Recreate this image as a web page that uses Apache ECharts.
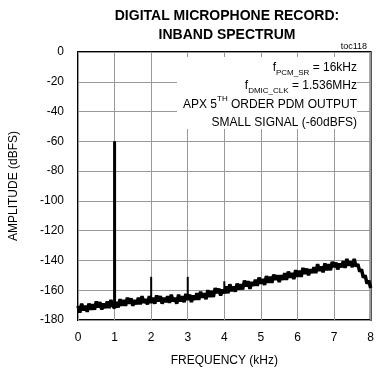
<!DOCTYPE html>
<html>
<head>
<meta charset="utf-8">
<script src="https://cdn.jsdelivr.net/npm/echarts@6/dist/echarts.min.js"></script>
<style>
  html, body { margin: 0; padding: 0; background: #fff; }
  #chart { width: 377px; height: 375px; }
</style>
</head>
<body>
<div id="chart"></div>
<script>
// noise floor trace, one value every 0.05 kHz from 0 to 8 kHz
var binStep = 0.05;
var noiseDb = [
    -170.5, -175, -169, -173.5, -170.5, -174.5, -169, -173, -169.5, -173, -167.5,
    -171.5, -168, -173, -169, -172, -167.5, -172, -166.5, -170.5, -172,
    -168, -171.5, -166, -170.5, -166.5, -170.5, -165, -169, -165.5, -170.5,
    -166.5, -169.5, -165, -169.5, -164, -168.5, -166, -169.5, -164, -168.5,
    -165, -169, -163.5, -167.5, -164, -169, -165, -168, -164, -168.5,
    -163, -167.5, -165, -169, -163, -167.5, -164, -168, -162.5, -166.5,
    -163, -168, -163.5, -166.5, -162, -166.5, -161, -165, -162, -166,
    -160, -164.5, -160.5, -164.5, -158.5, -162, -159, -163.5, -159.5, -162,
    -157.5, -162, -156, -160.5, -157.5, -161, -155.5, -159.5, -156, -159.5,
    -153.5, -157.5, -154, -159, -154.5, -157, -153, -157, -151.5, -155.5,
    -152.5, -156.5, -150.5, -155, -151, -155, -149.5, -153, -150, -154.5,
    -150, -153, -148.5, -153, -147.5, -151.5, -148.5, -152.5, -146.5, -151,
    -147, -151, -145, -149, -145.5, -150, -146, -148.5, -144.5, -148.5,
    -142.5, -147, -144, -148, -142, -146.5, -142.5, -146.5, -141, -144.5,
    -141.5, -146, -142, -144.5, -140.5, -145, -139, -143.5, -140.5, -144.5,
    -139, -144, -142.5, -147.5, -146, -151.5, -150, -155.5, -153.5, -158.5
];
// tones in the spectrum
var toneFreqs = [1, 2, 3, 4];
var toneTops = [-60, -151, -151, -154];
var toneBases = [-170, -166, -165.5, -160];

var xTicks = [0, 1, 2, 3, 4, 5, 6, 7, 8];
var yTicks = [0, -20, -40, -60, -80, -100, -120, -140, -160, -180];

var font = '"Liberation Sans", Arial, sans-serif';

var noisePts = [];
for (var i = 0; i < noiseDb.length; i++) {
    noisePts.push([+(i * binStep).toFixed(2), noiseDb[i]]);
}

var series = [{
    type: 'line',
    data: noisePts,
    symbol: 'none',
    lineStyle: { color: '#000', width: 3.5 },
    silent: true,
    z: 3
}];
for (var k = 0; k < toneFreqs.length; k++) {
    series.push({
        type: 'line',
        data: [[toneFreqs[k], toneBases[k]], [toneFreqs[k], toneTops[k]]],
        symbol: 'none',
        lineStyle: { color: '#000', width: k === 0 ? 3 : 2 },
        silent: true,
        z: 4
    });
}

var myChart = echarts.init(document.getElementById('chart'));
myChart.setOption({
    animation: false,
    backgroundColor: '#fff',
    title: {
        text: 'DIGITAL MICROPHONE RECORD:\nINBAND SPECTRUM',
        left: 222,
        top: 2,
        textAlign: 'center',
        textStyle: {
            fontFamily: font,
            fontWeight: 'bold',
            fontSize: 14,
            lineHeight: 19,
            color: '#000'
        }
    },
    grid: {
        left: 76,
        right: 4,
        top: 52,
        bottom: 55,
        show: true,
        borderColor: '#000',
        borderWidth: 2
    },
    xAxis: {
        type: 'value',
        min: 0,
        max: 8,
        interval: 1,
        name: 'FREQUENCY (kHz)',
        nameLocation: 'middle',
        nameGap: 35,
        nameTextStyle: { fontFamily: font, fontSize: 12, color: '#000' },
        axisLine: { show: false },
        axisTick: { show: false },
        axisLabel: {
            fontFamily: font, fontSize: 12, color: '#000', margin: 12,
            formatter: function (v) { return xTicks.indexOf(v) >= 0 ? String(v) : ''; }
        },
        splitLine: { show: true, lineStyle: { color: '#999', width: 1 } }
    },
    yAxis: {
        type: 'value',
        min: -180,
        max: 0,
        interval: 20,
        name: 'AMPLITUDE (dBFS)',
        nameLocation: 'middle',
        nameGap: 58,
        nameRotate: 90,
        nameTextStyle: { fontFamily: font, fontSize: 12, color: '#000' },
        axisLine: { show: false },
        axisTick: { show: false },
        axisLabel: {
            fontFamily: font, fontSize: 12, color: '#000', margin: 14,
            formatter: function (v) { return yTicks.indexOf(v) >= 0 ? String(v) : ''; }
        },
        splitLine: { show: true, lineStyle: { color: '#999', width: 1 } }
    },
    graphic: [{
        type: 'text',
        right: 10,
        top: 42,
        style: {
            text: 'toc118',
            font: '9px ' + font,
            fill: '#000'
        }
    }, {
        type: 'rect',
        shape: { x: 177, y: 57, width: 180, height: 72 },
        style: { fill: '#fff' },
        z: 10
    }, {
        type: 'text',
        x: 357,
        y: 58,
        z: 11,
        style: {
            text: '{n|f}{s|PCM_SR}{n| = 16kHz}\n{n|f}{s|DMIC_CLK}{n| = 1.536MHz}\n{n|APX 5}{p|TH}{n| ORDER PDM OUTPUT}\n{n|SMALL SIGNAL (-60dBFS)}',
            align: 'right',
            verticalAlign: 'top',
            fill: '#000',
            font: '12px ' + font,
            rich: {
                n: { fontFamily: font, fontSize: 12, lineHeight: 18.5, fill: '#000' },
                s: { fontFamily: font, fontSize: 8, lineHeight: 18.5, verticalAlign: 'bottom', padding: [6, 0, 0, 0], fill: '#000' },
                p: { fontFamily: font, fontSize: 8, lineHeight: 18.5, verticalAlign: 'top', padding: [0, 0, 5, 0], fill: '#000' }
            }
        }
    }],
    series: series
});
</script>
</body>
</html>
